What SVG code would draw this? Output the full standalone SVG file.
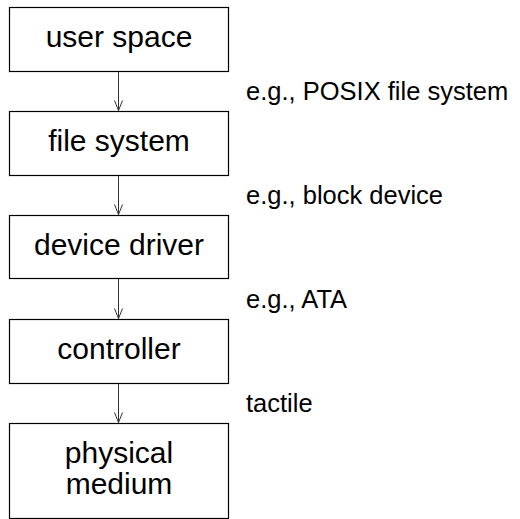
<svg xmlns="http://www.w3.org/2000/svg" width="520" height="519" viewBox="0 0 520 519">
  <style>
    .box rect { fill: #ffffff; stroke: #000000; stroke-width: 1.2; }
    .box text { font-family: "Liberation Sans", Arial, sans-serif; font-size: 30px; fill: #000000; text-anchor: middle; }
    .note { font-family: "Liberation Sans", Arial, sans-serif; font-size: 25.5px; fill: #000000; }
    .link { stroke: #333333; stroke-width: 1; fill: none; }
    .head { stroke: #333333; stroke-width: 1; fill: none; }
  </style>
  <rect width="520" height="519" fill="#ffffff"/>

  <!-- layer stack -->
  <g id="user-space" class="box">
    <rect x="9.5" y="7.5" width="219" height="64"/>
    <text x="119" y="47">user space</text>
  </g>
  <g id="file-system" class="box">
    <rect x="9.5" y="111.5" width="219" height="64"/>
    <text x="119" y="151">file system</text>
  </g>
  <g id="device-driver" class="box">
    <rect x="9.5" y="215.5" width="219" height="63"/>
    <text x="119" y="254.5">device driver</text>
  </g>
  <g id="controller" class="box">
    <rect x="9.5" y="319.5" width="219" height="64"/>
    <text x="119" y="358.5">controller</text>
  </g>
  <g id="physical-medium" class="box">
    <rect x="9.5" y="423.5" width="219" height="95"/>
    <text x="119" y="463">physical</text>
    <text x="119" y="494">medium</text>
  </g>

  <!-- downward connectors with open arrowheads -->
  <g id="connectors">
    <line class="link" x1="118.5" y1="72" x2="118.5" y2="110.5"/>
    <polyline class="head" points="114.5,100.5 118.5,110.5 122.5,100.5"/>
    <line class="link" x1="118.5" y1="176" x2="118.5" y2="214.5"/>
    <polyline class="head" points="114.5,204.5 118.5,214.5 122.5,204.5"/>
    <line class="link" x1="118.5" y1="279" x2="118.5" y2="318.5"/>
    <polyline class="head" points="114.5,308.5 118.5,318.5 122.5,308.5"/>
    <line class="link" x1="118.5" y1="384" x2="118.5" y2="422.5"/>
    <polyline class="head" points="114.5,412.5 118.5,422.5 122.5,412.5"/>
  </g>

  <!-- interface notes -->
  <g id="notes">
    <text class="note" x="246" y="100">e.g., POSIX file system</text>
    <text class="note" x="246" y="204">e.g., block device</text>
    <text class="note" x="246" y="308">e.g., ATA</text>
    <text class="note" x="246" y="412">tactile</text>
  </g>
</svg>
